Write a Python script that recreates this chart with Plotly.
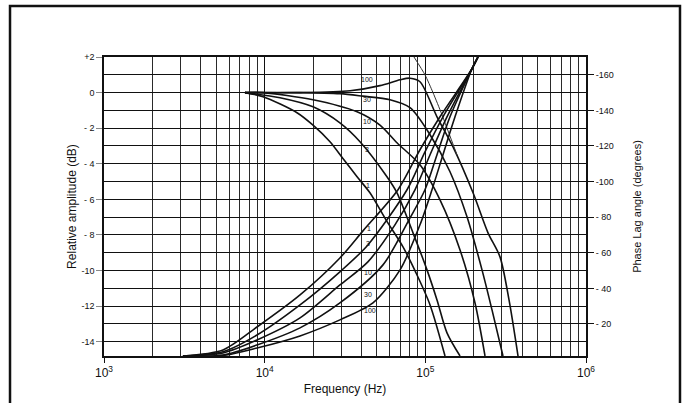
import plotly.graph_objects as go

# ---------------- data ----------------
# Amplitude response (dB) for parameter values 1, 3, 10, 30, 100
amp_f_1 = [7540, 9770, 15900, 20000, 25500, 30700, 37600, 45200, 56900, 72600, 87500, 107000, 132600]
amp_db_1 = [0, -0.23, -1.13, -1.83, -2.76, -3.7, -4.73, -5.63, -7.15, -8.67, -10.13, -11.93, -14.8]

amp_f_3 = [7540, 12460, 20000, 29400, 39200, 57700, 66600, 83800, 102400, 118200, 136400, 164400]
amp_db_3 = [0, -0.29, -0.8, -1.7, -2.76, -4.73, -5.63, -7.88, -9.96, -11.65, -13.5, -14.8]

amp_f_10 = [7540, 9770, 20000, 37600, 52200, 66600, 92600, 123400, 164400, 203800, 235200]
amp_db_10 = [0, 0, -0.4, -1.08, -1.83, -2.82, -4.06, -6.03, -8.84, -11.82, -14.8]

amp_f_30 = [7540, 15900, 29400, 40900, 60300, 80300, 107000, 142400, 181700, 225300, 260000, 304300]
amp_db_30 = [0, 0, -0.06, -0.2, -0.4, -0.85, -2.37, -4.45, -6.98, -9.96, -12.21, -14.8]

amp_f_100 = [7540, 16600, 34000, 52200, 69600, 80300, 92600, 118200, 148700, 198100, 245500, 291500, 331800, 377500]
amp_db_100 = [0, 0, 0.1, 0.39, 0.72, 0.81, 0.61, -1.36, -3.05, -5.63, -7.88, -9.23, -11.65, -14.8]

# thin steep line entering from the top and merging with the "100" curve
amp_f_top = [85000, 99500, 111600, 127000, 157400]
amp_db_top = [2.0, 1.0, 0.0, -1.25, -3.5]

# Phase lag (degrees) for parameter values 1, 3, 10, 30, 100
ph_f_1 = [3100, 5500, 8960, 16600, 29400, 40900, 67600, 92600, 123400, 195200, 212700]
ph_deg_1 = [-2.0, -5.4, -18.3, -36.3, -57.1, -72.3, -95.4, -117.9, -136.4, -163.4, -170]

ph_f_3 = [3100, 5500, 8960, 16600, 29400, 43900, 76900, 99500, 128800, 195200, 212700]
ph_deg_3 = [-2.0, -4.4, -13.8, -30.7, -49.3, -64.4, -95.4, -116.7, -136.4, -163.4, -170]

ph_f_10 = [3100, 5500, 8960, 16600, 29400, 43900, 64700, 86200, 107000, 136400, 195200, 212700]
ph_deg_10 = [-2.0, -3.7, -11.0, -23.4, -41.9, -54.9, -75.7, -95.4, -115.1, -136.4, -163.4, -170]

ph_f_30 = [3100, 5500, 8960, 16600, 29400, 54500, 80300, 99500, 118200, 142400, 195200, 212700]
ph_deg_30 = [-2.0, -2.6, -8.2, -17.8, -31.8, -53.2, -79.6, -95.4, -115.1, -136.4, -163.4, -170]

ph_f_100 = [3100, 5500, 8960, 16600, 29400, 47200, 69600, 92600, 110000, 128800, 153000, 195200, 212700]
ph_deg_100 = [-2.0, -2.3, -6.5, -13.3, -22.3, -31.8, -50.4, -75.7, -95.4, -115.1, -136.4, -163.4, -170]

curve_labels = ["1", "3", "10", "30", "100"]

# axis ticks
x_major = [1e3, 1e4, 1e5, 1e6]
x_major_text = ["10<sup>3</sup>", "10<sup>4</sup>", "10<sup>5</sup>", "10<sup>6</sup>"]
y_left_vals = [2, 0, -2, -4, -6, -8, -10, -12, -14]
y_left_text = ["+2", "0", "- 2", "- 4", "- 6", "- 8", "-10", "-12", "-14"]
y_right_vals = [-160, -140, -120, -100, -80, -60, -40, -20]
y_right_text = ["-160", "-140", "-120", "-100", "- 80", "- 60", "- 40", "- 20"]

# ---------------- figure ----------------
INK = "#111111"
FONT = "Liberation Sans, Arial, Helvetica, sans-serif"

fig = go.Figure()

amp_sets = [(amp_f_1, amp_db_1), (amp_f_3, amp_db_3), (amp_f_10, amp_db_10),
            (amp_f_30, amp_db_30), (amp_f_100, amp_db_100)]
for (f, v), lab in zip(amp_sets, curve_labels):
    fig.add_trace(go.Scatter(x=f, y=v, mode="lines", name="amp " + lab,
                             line=dict(color=INK, width=1.6, shape="spline", smoothing=0.8),
                             yaxis="y", hoverinfo="skip"))
fig.add_trace(go.Scatter(x=amp_f_top, y=amp_db_top, mode="lines", name="amp top",
                         line=dict(color="#333333", width=1.0, shape="spline", smoothing=0.6),
                         yaxis="y", hoverinfo="skip"))

ph_sets = [(ph_f_1, ph_deg_1), (ph_f_3, ph_deg_3), (ph_f_10, ph_deg_10),
           (ph_f_30, ph_deg_30), (ph_f_100, ph_deg_100)]
for (f, v), lab in zip(ph_sets, curve_labels):
    fig.add_trace(go.Scatter(x=f, y=v, mode="lines", name="phase " + lab,
                             line=dict(color=INK, width=1.6, shape="spline", smoothing=0.8),
                             yaxis="y2", hoverinfo="skip"))

minor_x = [k * 10 ** n for n in (3, 4, 5) for k in range(2, 10)]
minor_y = [1, -1, -3, -5, -7, -9, -11, -13]

fig.update_layout(
    width=683, height=403,
    margin=dict(l=104, r=97, t=57, b=47, autoexpand=False),
    paper_bgcolor="white", plot_bgcolor="white",
    showlegend=False,
    font=dict(family=FONT, color=INK),
    xaxis=dict(
        type="log", range=[3, 6], automargin=False,
        tickmode="array", tickvals=x_major, ticktext=x_major_text,
        ticks="outside", ticklen=5, tickcolor=INK, tickwidth=1,
        tickfont=dict(size=12, color=INK),
        showgrid=True, gridcolor=INK, gridwidth=1,
        minor=dict(tickmode="array", tickvals=minor_x, showgrid=True,
                   gridcolor="#2a2a2a", gridwidth=1, ticks=""),
        showline=True, linecolor=INK, linewidth=1.5, mirror=True,
        zeroline=False,
        title=dict(text="Frequency (Hz)", font=dict(size=12, color=INK), standoff=5),
    ),
    yaxis=dict(
        range=[-14.8, 2], automargin=False,
        tickmode="array", tickvals=y_left_vals, ticktext=y_left_text,
        ticks="outside", ticklen=6, tickcolor="#888888", tickwidth=1,
        tickfont=dict(size=9, color=INK),
        showgrid=True, gridcolor=INK, gridwidth=1,
        minor=dict(tickmode="array", tickvals=minor_y, showgrid=True,
                   gridcolor=INK, gridwidth=1, ticks=""),
        showline=True, linecolor=INK, linewidth=1.5, mirror=True,
        zeroline=False,
        title=dict(text="Relative amplitude (dB)", font=dict(size=12, color=INK), standoff=2),
    ),
    yaxis2=dict(
        overlaying="y", side="right", automargin=False,
        range=[-2, -170],
        tickmode="array", tickvals=y_right_vals, ticktext=y_right_text,
        ticks="outside", ticklen=7, tickcolor=INK, tickwidth=1,
        tickfont=dict(size=9, color=INK),
        showgrid=False, zeroline=False, showline=False,
        title=dict(text="Phase Lag angle (degrees)", font=dict(size=11, color=INK), standoff=20),
    ),
)

# outer frame of the scanned figure
fig.add_shape(type="rect", xref="paper", yref="paper",
              x0=-0.195, x1=1.195, y0=-0.2, y1=1.1706,
              line=dict(color=INK, width=2.5), fillcolor="rgba(0,0,0,0)", layer="above")

# curve labels
amp_label_pos = [(4.643, -5.24), (4.637, -3.21), (4.637, -1.64), (4.637, -0.40), (4.637, 0.72)]
ph_label_pos = [(4.649, -73.4), (4.643, -65.0), (4.643, -48.7), (4.643, -36.3), (4.656, -27.3)]
for lab, (lx, ly) in zip(curve_labels, amp_label_pos):
    fig.add_annotation(x=lx, y=ly, xref="x", yref="y", text=lab, showarrow=False,
                       font=dict(size=7, color=INK, family=FONT))
for lab, (lx, ly) in zip(curve_labels, ph_label_pos):
    fig.add_annotation(x=lx, y=ly, xref="x", yref="y2", text=lab, showarrow=False,
                       font=dict(size=7, color=INK, family=FONT))

fig.write_html(
    "out.html",
    config={"displayModeBar": False},
    post_script="document.body.style.margin='0';document.body.style.overflow='hidden';",
)
